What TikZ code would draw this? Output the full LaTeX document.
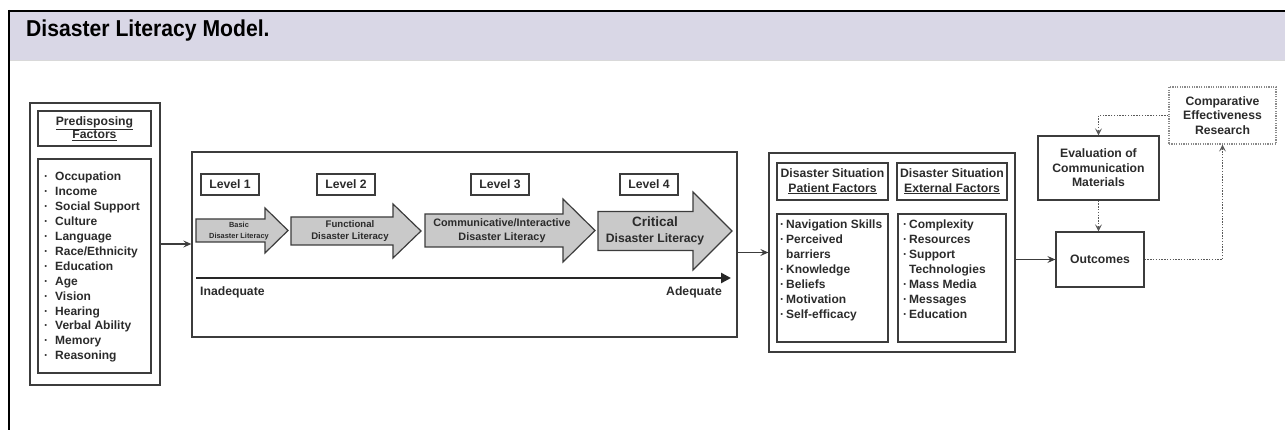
\documentclass[tikz,border=0pt]{standalone}
\usepackage{fontspec}
\usepackage{graphicx}
\setmainfont{Liberation Sans}
\usetikzlibrary{arrows.meta,calc}
\definecolor{band}{HTML}{D9D7E6}
\definecolor{ink}{HTML}{2B2B2B}
\definecolor{lin}{HTML}{3C3C3C}
\definecolor{afill}{HTML}{C9C9C9}
\begin{document}
\begin{tikzpicture}[x=1pt,y=-1pt,
  box/.style={draw=lin, line width=1.3pt, inner sep=0pt, text=ink, align=center, font=\fontsize{12.2}{14.5}\selectfont\bfseries},
  item/.style={inner sep=0pt, text=ink, font=\fontsize{12}{14}\selectfont\bfseries},
  conn/.style={draw=lin, line width=1.3pt, -{Stealth[length=8pt,width=7pt,inset=3pt]}},
  dconn/.style={draw=lin!85, line width=1.6pt, dash pattern=on 1.4pt off 1.4pt, -{Stealth[length=7pt,width=7pt,inset=3pt]}},
  barrow/.style={draw=lin, line width=1.2pt, fill=afill},
  atext/.style={inner sep=0pt, text=ink, align=center}
]
\useasboundingbox (0,0) rectangle (1285,430);
% header frame
\fill[band] (10,12) rectangle (1285,60);
\draw[black!15, line width=0.6pt] (10,60.5) -- (1285,60.5);
\draw[black, line width=2.4pt] (8,11) -- (1285,11);
\draw[black, line width=2.6pt] (9,10) -- (9,430);
\node[anchor=west, inner sep=0pt, text=black] (title) at (26,31)
  {\fontsize{23}{26}\selectfont\bfseries\scalebox{0.92}[1]{Disaster Literacy Model.}};

% predisposing factors
\node[box, minimum width=130pt, minimum height=282pt] (pOut) at (95,244) {};
\node[box, minimum width=113pt, minimum height=35pt] (pTitle) at (94.5,128.5)
  {\underline{Predisposing}\\[-1pt]\underline{Factors}};
\node[box, minimum width=113pt, minimum height=214pt] (pList) at (94.5,266) {};
\foreach \t [count=\i from 0] in {Occupation,Income,Social Support,Culture,Language,Race/Ethnicity,Education,Age,Vision,Hearing,Verbal Ability,Memory,Reasoning}
  \node[item, anchor=base west] (pi\i) at (44,{181+14.9*\i}) {\makebox[11pt][l]{·}\t};

% levels box
\node[box, minimum width=545pt, minimum height=185pt] (lvBox) at (464.5,244.5) {};
\node[box, minimum width=58pt, minimum height=21pt] (L1) at (230,184.5) {Level 1};
\node[box, minimum width=58pt, minimum height=21pt] (L2) at (346,184.5) {Level 2};
\node[box, minimum width=58pt, minimum height=21pt] (L3) at (500,184.5) {Level 3};
\node[box, minimum width=58pt, minimum height=21pt] (L4) at (649,184.5) {Level 4};

% block arrows: tail, head start, tip, centre y, shaft half, head half
\newcommand\blockarrow[6]{%
  \draw[barrow] (#1,#4-#5) -- (#2,#4-#5) -- (#2,#4-#6) -- (#3,#4) -- (#2,#4+#6) -- (#2,#4+#5) -- (#1,#4+#5) -- cycle;}
\blockarrow{196}{265}{288}{230.5}{11.5}{22.5}
\blockarrow{291}{393}{421}{231}{14}{27}
\blockarrow{425}{563}{595}{230.5}{16.5}{31.5}
\blockarrow{598}{693}{732}{231}{19.5}{39}
\node[atext, font=\fontsize{7.4}{11}\selectfont\bfseries] (a1) at (239,231.5) {Basic\\Disaster Literacy};
\node[atext, font=\fontsize{9.6}{12}\selectfont\bfseries] (a2) at (350,231) {Functional\\Disaster Literacy};
\node[atext, font=\fontsize{10.8}{14}\selectfont\bfseries] (a3) at (502,231) {Communicative/Interactive\\Disaster Literacy};
\node[atext, font=\fontsize{12.2}{16}\selectfont\bfseries] (a4) at (655,231) {{\fontsize{13.5}{16}\selectfont Critical}\\Disaster Literacy};

% scale line
\coordinate (sA) at (196,278);
\coordinate (sB) at (731,278);
\draw[black!85, line width=2.8pt, -{Triangle[length=10pt,width=10pt]}] (sA) -- (sB);
\node[item, font=\fontsize{12.2}{14}\selectfont\bfseries, anchor=base west] (inad) at (200,296) {Inadequate};
\node[item, font=\fontsize{12.2}{14}\selectfont\bfseries, anchor=base east] (adeq) at (722,296) {Adequate};

% disaster situation
\node[box, minimum width=246pt, minimum height=199pt] (sBox) at (892,252.5) {};
\node[box, minimum width=111pt, minimum height=37pt] (sT1) at (832.5,181.5)
  {Disaster Situation\\\underline{Patient Factors}};
\node[box, minimum width=110pt, minimum height=37pt] (sT2) at (952,181.5)
  {Disaster Situation\\\underline{External Factors}};
\node[box, minimum width=111pt, minimum height=128pt] (sL1) at (832.5,278) {};
\node[box, minimum width=108pt, minimum height=128pt] (sL2) at (952,278) {};
\foreach \t [count=\i from 0] in {\makebox[6pt][l]{·}Navigation Skills,\makebox[6pt][l]{·}Perceived,\hspace*{6pt}barriers,\makebox[6pt][l]{·}Knowledge,\makebox[6pt][l]{·}Beliefs,\makebox[6pt][l]{·}Motivation,\makebox[6pt][l]{·}Self-efficacy}
  \node[item, anchor=base west] (sa\i) at (780,{229+15*\i}) {\t};
\foreach \t [count=\i from 0] in {\makebox[6pt][l]{·}Complexity,\makebox[6pt][l]{·}Resources,\makebox[6pt][l]{·}Support,\hspace*{6pt}Technologies,\makebox[6pt][l]{·}Mass Media,\makebox[6pt][l]{·}Messages,\makebox[6pt][l]{·}Education}
  \node[item, anchor=base west] (sb\i) at (903,{229+15*\i}) {\t};

% right side
\node[box, minimum width=121pt, minimum height=64pt] (eval) at (1098.5,168)
  {Evaluation of\\Communication\\Materials};
\node[box, minimum width=88pt, minimum height=55pt] (outc) at (1100,259.5) {Outcomes};
\node[box, draw=lin!60, dash pattern=on 1.2pt off 1.2pt, line width=1.2pt, minimum width=107pt, minimum height=57pt] (cer) at (1222.5,115.5)
  {Comparative\\Effectiveness\\Research};

% connectors
\draw[conn] (pOut.east) -- (pOut.east -| lvBox.west);
\draw[conn] (lvBox.east |- sBox.center) -- (sBox.west);
\draw[conn] (sBox.east |- outc.west) -- (outc.west);
\draw[dconn] (cer.west) -| (eval.north);
\draw[dconn] (eval.south) -- (eval.south |- outc.north);
\draw[dconn] (outc.east) -| (cer.south);
\end{tikzpicture}
\end{document}
